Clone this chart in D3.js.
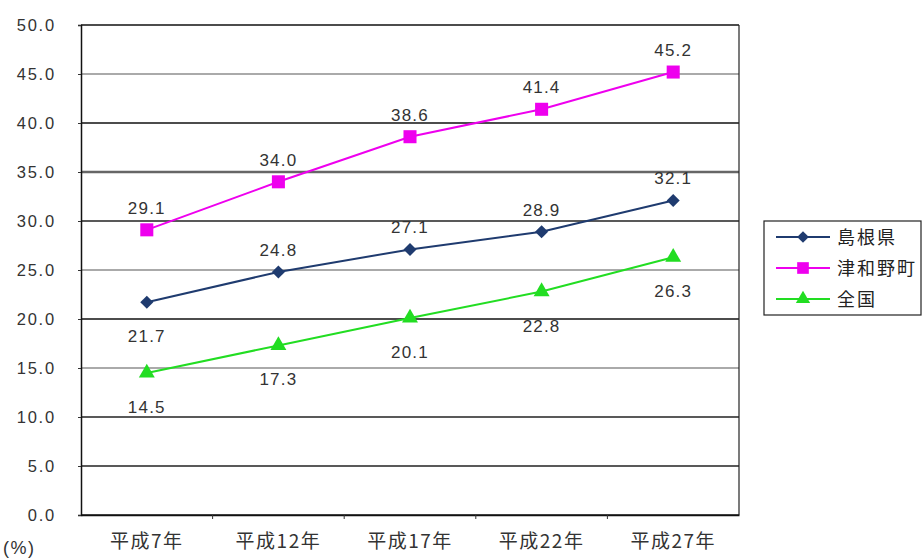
<!DOCTYPE html>
<html lang="ja">
<head>
<meta charset="utf-8">
<script src="https://cdn.jsdelivr.net/npm/d3@7"></script>
<style>
  html, body { margin: 0; padding: 0; background: #fff; }
  svg { display: block; font-family: "Liberation Sans", Arial, "Noto Sans CJK JP", sans-serif; }
  .jp { font-family: "Noto Sans CJK JP", sans-serif; }
</style>
</head>
<body>
<svg id="chart" width="923" height="560"></svg>
<script>
// 高齢化率の推移 (%)
const categories = ["平成7年", "平成12年", "平成17年", "平成22年", "平成27年"];
const shimane = [21.7, 24.8, 27.1, 28.9, 32.1];
const tsuwano = [29.1, 34.0, 38.6, 41.4, 45.2];
const zenkoku = [14.5, 17.3, 20.1, 22.8, 26.3];
const seriesNames = ["島根県", "津和野町", "全国"];
const yTicks = [0, 5, 10, 15, 20, 25, 30, 35, 40, 45, 50];

// label placement per series: "a" = above marker, "b" = below marker
const shimaneSide = ["b", "a", "a", "a", "a"];
const tsuwanoSide = ["a", "a", "a", "a", "a"];
const zenkokuSide = ["b", "b", "b", "b", "b"];

// diamond = square turned 45 degrees
const series = [
  { name: seriesNames[0], values: shimane, side: shimaneSide, color: "#1f3b6f", marker: d3.symbolSquare, rot: 45, size: 85 },
  { name: seriesNames[1], values: tsuwano, side: tsuwanoSide, color: "#ee00ee", marker: d3.symbolSquare, rot: 0, size: 170 },
  { name: seriesNames[2], values: zenkoku, side: zenkokuSide, color: "#22dd22", marker: d3.symbolTriangle, rot: 0, size: 110 }
];

const svg = d3.select("#chart");
const plot = { left: 81, right: 739, top: 25, bottom: 515 };

const x = d3.scaleBand().domain(categories).range([plot.left, plot.right]);
const y = d3.scaleLinear().domain([0, 50]).range([plot.bottom, plot.top]);
const cx = d => x(d) + x.bandwidth() / 2;

// gridlines (alternating tone)
const gridTone = ["#111", "#222", "#222", "#aaa", "#111", "#aaa", "#222", "#666", "#111", "#aaa", "#111"];
svg.append("g").selectAll("line").data(yTicks).join("line")
  .attr("x1", plot.left).attr("x2", plot.right)
  .attr("y1", d => y(d)).attr("y2", d => y(d))
  .attr("stroke", (d, i) => gridTone[i])
  .attr("stroke-width", (d, i) => (gridTone[i] === "#aaa" ? 2.2 : gridTone[i] === "#666" ? 2.5 : 1.3));

// right border
svg.append("line")
  .attr("x1", plot.right).attr("x2", plot.right)
  .attr("y1", plot.top).attr("y2", plot.bottom)
  .attr("stroke", "#222").attr("stroke-width", 1.2);

// y axis
const yAxis = svg.append("g")
  .attr("transform", `translate(${plot.left},0)`)
  .call(d3.axisLeft(y).tickValues(yTicks).tickFormat(d3.format(".1f")).tickSize(3).tickPadding(22));
yAxis.select(".domain").attr("stroke", "#111").attr("stroke-width", 1.5);
yAxis.selectAll(".tick line").attr("stroke", "#333");
yAxis.selectAll("text").attr("font-size", 16.5).attr("fill", "#333")
  .attr("letter-spacing", 1.8)
  .attr("font-family", "'Liberation Sans', Arial, sans-serif");

// x axis (ticks between categories)
const xAxis = svg.append("g")
  .attr("transform", `translate(0,${plot.bottom})`)
  .call(d3.axisBottom(x).tickSize(0).tickPadding(20));
xAxis.select(".domain").attr("stroke", "#111").attr("stroke-width", 1.5);
xAxis.selectAll("text").attr("class", "jp").attr("font-size", 19).attr("fill", "#333")
  .attr("letter-spacing", 1.5);
svg.append("g").selectAll("line").data(categories.slice(1)).join("line")
  .attr("x1", d => x(d)).attr("x2", d => x(d))
  .attr("y1", plot.bottom).attr("y2", plot.bottom + 4)
  .attr("stroke", "#333");

// unit
svg.append("text").attr("x", 3).attr("y", 554)
  .attr("font-size", 18).attr("fill", "#333").attr("letter-spacing", 1.5).text("(%)");

// lines, markers, value labels
const line = d3.line().x((d, i) => cx(categories[i])).y(d => y(d));
series.forEach(s => {
  const g = svg.append("g");
  g.append("path").datum(s.values)
    .attr("d", line).attr("fill", "none")
    .attr("stroke", s.color).attr("stroke-width", 2);
  g.selectAll("path.m").data(s.values).join("path")
    .attr("class", "m")
    .attr("transform", (d, i) => `translate(${cx(categories[i])},${y(d)}) rotate(${s.rot})`)
    .attr("d", d3.symbol().type(s.marker).size(s.size))
    .attr("fill", s.color);
  g.selectAll("text").data(s.values).join("text")
    .attr("x", (d, i) => cx(categories[i]))
    .attr("y", (d, i) => s.side[i] === "a" ? y(d) - 16 : y(d) + 40)
    .attr("text-anchor", "middle")
    .attr("font-size", 17).attr("fill", "#333").attr("letter-spacing", 1.2)
    .text(d => d.toFixed(1));
});

// legend
const lg = svg.append("g").attr("transform", "translate(764,221)");
lg.append("rect").attr("width", 157).attr("height", 94)
  .attr("fill", "#fff").attr("stroke", "#222").attr("stroke-width", 1.2);
series.forEach((s, i) => {
  const ry = 16 + i * 31;
  lg.append("line").attr("x1", 12).attr("x2", 66).attr("y1", ry).attr("y2", ry)
    .attr("stroke", s.color).attr("stroke-width", 2);
  lg.append("path").attr("transform", `translate(39,${ry}) rotate(${s.rot})`)
    .attr("d", d3.symbol().type(s.marker).size(s.size * 0.8)).attr("fill", s.color);
  lg.append("text").attr("class", "jp").attr("x", 73).attr("y", ry + 7)
    .attr("font-size", 18).attr("fill", "#222").attr("letter-spacing", 2).text(s.name);
});
</script>
</body>
</html>
